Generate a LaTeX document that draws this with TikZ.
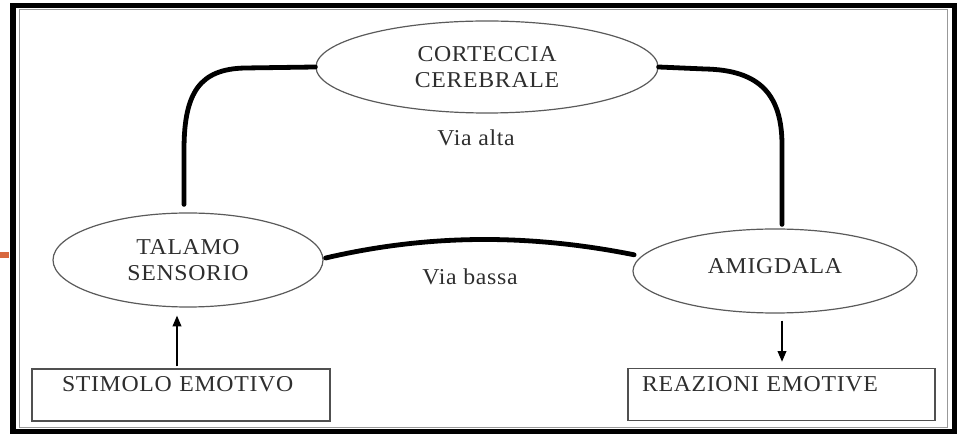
\documentclass[tikz,border=0pt]{standalone}
\usepackage{fontspec}
\setmainfont{Liberation Serif}[FakeStretch=1.05,LetterSpace=3]
\usetikzlibrary{shapes.geometric,arrows.meta,calc}
\definecolor{txt}{HTML}{2E2E2E}
\definecolor{ellc}{HTML}{5A5A5A}
\definecolor{boxc}{HTML}{505050}
\definecolor{orangemark}{HTML}{D8683F}
\begin{document}
\begin{tikzpicture}[x=0.75pt,y=-0.75pt,
  lbl/.style={font=\fontsize{17}{19.5}\selectfont, text=txt},
  ell/.style={lbl, ellipse, draw=ellc, line width=0.9pt, inner sep=0pt, align=center},
  boxnode/.style={lbl, rectangle, draw=boxc, line width=1.1pt, inner ysep=0pt, align=left,
    text height=17.25pt, text depth=21.75pt},
  thickline/.style={line width=3.6pt, black, line cap=round},
  arr/.style={line width=1.1pt, black, -{Triangle[length=8pt,width=6.5pt]}}
]
\useasboundingbox (0,0) rectangle (961,434);
% frame
\draw[line width=4.4pt, black] (13,5.5) rectangle (954.5,432);
\draw[line width=1.3pt, gray!80] (19.5,9.5) rectangle (947.5,427.5);
% orange mark
\fill[orangemark] (0,252) rectangle (9,258);
% nodes
\node[ell, minimum width=256.5pt, minimum height=69pt] (cor) at (487,67) {CORTECCIA\\CEREBRALE};
\node[ell, minimum width=202.5pt, minimum height=70.5pt] (tal) at (188,260) {TALAMO\\SENSORIO};
\node[ell, minimum width=213pt, minimum height=63pt, text height=11.5pt, text depth=7pt] (ami) at (775,271) {AMIGDALA};
\node[boxnode, inner xsep=22.5pt, text width=178.5pt, minimum width=223.5pt] (stim) at (181,395) {STIMOLO EMOTIVO};
\node[boxnode, inner xsep=10.5pt, text width=209.25pt, minimum width=230.25pt] (rea) at (781.5,394.5) {REAZIONI EMOTIVE};
\node[lbl] (alta) at (476,138) {Via alta};
\node[lbl] (bassa) at (470,277) {Via bassa};
% thick connectors
\draw[thickline] (cor.west) -- (245,68) .. controls (200,69) and (184,92) .. (184,150) -- ([shift={(-4,-8)}]tal.north);
\draw[thickline] (cor.east) -- (705,69) .. controls (760,70) and (782,95) .. (782,145) -- ([shift={(7,-4)}]ami.north);
\draw[thickline] ([shift={(2,-2)}]tal.east) .. controls (420,236) and (520,232) .. ([shift={(-9,0)}]ami.173);
% arrows
\draw[arr] ([shift={(-4,-2)}]stim.north) -- ([shift={(-11,8)}]tal.south);
\draw[arr] ([shift={(7,7)}]ami.south) -- ([shift={(0.5,-6)}]rea.north);
\end{tikzpicture}
\end{document}
